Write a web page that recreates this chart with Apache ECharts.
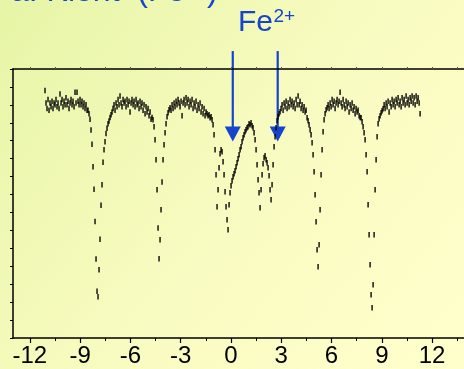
<!DOCTYPE html>
<html>
<head>
<meta charset="utf-8">
<script src="https://cdn.jsdelivr.net/npm/echarts@6/dist/echarts.min.js"></script>
<style>
  html, body { margin: 0; padding: 0; }
  #chart { width: 464px; height: 369px; }
</style>
</head>
<body>
<div id="chart"></div>
<script>
// Mössbauer spectrum: one count per channel, channel velocity = vStart + i * vStep (mm/s)
const vStart = -11.09;
const vStep = 0.05967;
const counts = [
  138, 131, 128, 133, 127, 131, 129, 132, 128, 131, 130, 133, 129, 131, 128, 136, 131, 133, 129, 132,
  130, 134, 130, 132, 128, 131, 133, 130, 132, 129, 137, 131, 137, 132, 130, 133, 130, 132, 129, 131,
  128, 130, 127,
  127, 125, 122, 116, 108, 95.5, 83, 65, 44, 26, 23, 38, 55, 74, 85.5, 98, 105, 109.5, 114, 117,
  119.5, 121, 123, 124.5, 126,
  128, 130, 127, 131, 129, 133, 130, 135, 131, 129, 133, 131, 132, 129, 133, 130, 132, 126, 131, 133,
  130, 132, 129, 133, 130, 131, 128, 132, 129, 131, 127, 130, 125, 129, 126, 128, 124, 126, 122, 123,
  121.7, 117.8, 110.5, 99.4, 82.6, 61.4, 44.2, 54.8, 71.5, 87, 99.4, 107.8, 114.5, 119.5, 123.4, 125.6,
  127.3, 128.4,
  127, 130, 128, 131, 129, 132, 130, 133, 131, 129, 132, 124, 131, 133, 130, 134, 131, 133, 129, 132,
  130, 133, 128, 131, 129, 132, 127, 130, 128, 131, 126, 129, 125, 128, 124, 126,
  125, 124, 124.5, 122.8, 123.4,
  121.7, 118.9, 113.3, 105, 91, 73.2, 82.6, 94.9, 102.7, 105, 103.8, 98.3, 91, 81.5, 73.2, 65.9,
  60.3, 74.3, 81, 84.9, 87.7, 89.9, 91.6, 93.3, 95.5, 97.7, 100, 102.2, 105, 106.6, 109.4, 111.7,
  113.3, 115, 116.1, 117.3, 117.8, 119.5, 118.9, 120, 118.4, 117.3, 114.5, 110.5, 105, 96.6, 88.2, 81,
  72.6, 82.6, 91, 97.2, 100.5, 101.6, 99.4, 97.7, 94.9, 90.5, 82.6, 77.1, 85.4, 96.6, 106.6, 112.2,
  117.3, 121.2, 123.4, 125, 126.2,
  128, 130, 127, 131, 129, 132, 128, 131, 129, 133, 130, 132, 129, 131, 128, 133, 130, 135, 130, 132,
  128, 130, 127, 129, 126, 127,
  122.8, 121.2, 118.9, 116.1, 113.3, 108.9, 102.2, 92.7, 79.9, 64.8, 49.2, 39.7, 52, 71.5, 91, 105,
  115, 121.7, 125, 127.3, 128.4,
  130, 128, 131, 129, 133, 130, 132, 128, 131, 133, 130, 132, 137, 131, 129, 133, 130, 128, 132, 129,
  131, 126, 130, 128, 131, 127, 129, 125, 128, 126, 127, 124, 123,
  122.8, 120.6, 117.8, 114.5, 110.5, 102.2, 92.7, 74.3, 57.6, 40.9, 24.1, 16.8, 29.7, 57.6, 82.6, 99.4,
  112.2, 119.5, 122.3, 124, 125.6, 126.7, 127.8,
  130, 128, 131, 129, 132, 126, 131, 129, 133, 130, 132, 129, 133, 131, 134, 130, 132, 129, 134, 131,
  133, 130, 135, 131, 133, 130, 134, 132, 135, 131, 134, 130, 135, 132, 134, 131, 125
];

const xLabels = [-12, -9, -6, -3, 0, 3, 6, 9, 12];
const xMinor = [-10.5, -7.5, -4.5, -1.5, 1.5, 4.5, 7.5, 10.5, 13.5];
const xTop = [-12, -10.5, -9, -7.5, -6, -4.5, -3, -1.5, 0, 1.5, 3, 4.5, 6, 7.5, 9, 10.5, 12, 13.5];
const arrowVel = [0.11, 2.79];
const arrowTop = 160;
const arrowTip = 109.6;

const blue = '#1545cc';
const font = 'Arial, "Liberation Sans", sans-serif';

const chart = echarts.init(document.getElementById('chart'), null, { renderer: 'canvas' });

const points = counts.map((c, i) => [vStart + i * vStep, c]);

const baseX = {
  type: 'value',
  min: -13,
  max: 14.5,
  splitLine: { show: false },
  axisLabel: { show: false },
  axisLine: { show: false, onZero: false },
  axisTick: { show: false }
};

chart.setOption({
  animation: false,
  backgroundColor: new echarts.graphic.LinearGradient(0, 0, 1, 1, [
    { offset: 0, color: '#e6f5a6' },
    { offset: 0.5, color: '#f8fbc0' },
    { offset: 1, color: '#ffffcc' }
  ]),
  grid: { left: 13, right: -10, top: 69, bottom: 31, containLabel: false, outerBoundsMode: 'none' },
  xAxis: [
    {
      ...baseX,
      position: 'bottom',
      axisLine: { show: true, onZero: false, lineStyle: { color: '#000', width: 1.5 } },
      axisTick: { show: true, customValues: xLabels, length: 5, lineStyle: { color: '#000', width: 1.2 } },
      axisLabel: {
        show: true,
        customValues: xLabels,
        color: '#000',
        fontSize: 24,
        fontFamily: font,
        margin: 6
      }
    },
    {
      ...baseX,
      position: 'bottom',
      axisTick: { show: true, customValues: xMinor, length: 3, lineStyle: { color: '#000', width: 1 } }
    },
    {
      ...baseX,
      position: 'top',
      axisLine: { show: true, onZero: false, lineStyle: { color: '#000', width: 1.5 } },
      axisTick: { show: true, customValues: xTop, length: 2, lineStyle: { color: '#555', width: 1 } }
    }
  ],
  yAxis: {
    type: 'value',
    min: 0,
    max: 150,
    interval: 10,
    position: 'left',
    splitLine: { show: false },
    axisLabel: { show: false },
    axisLine: { show: true, onZero: false, lineStyle: { color: '#000', width: 1.5 } },
    axisTick: { show: true, length: 3, lineStyle: { color: '#000', width: 1 } }
  },
  series: [
    {
      type: 'scatter',
      data: points,
      symbol: 'rect',
      symbolSize: [1.7, 5.5],
      itemStyle: { color: '#000' },
      silent: true
    }
  ]
});

// arrows and the Fe2+ label
const elements = [];
arrowVel.forEach(v => {
  const top = chart.convertToPixel({ xAxisIndex: 0, yAxisIndex: 0 }, [v, arrowTop]);
  const tip = chart.convertToPixel({ xAxisIndex: 0, yAxisIndex: 0 }, [v, arrowTip]);
  const headH = 15, headW = 8;
  elements.push({
    type: 'line',
    shape: { x1: top[0], y1: top[1], x2: tip[0], y2: tip[1] - headH + 1 },
    style: { stroke: blue, lineWidth: 2.2 }
  });
  elements.push({
    type: 'polygon',
    shape: { points: [[tip[0] - headW, tip[1] - headH], [tip[0] + headW, tip[1] - headH], [tip[0], tip[1]]] },
    style: { fill: blue }
  });
});
elements.push(
  {
    type: 'text', left: 238, top: 8,
    style: { text: 'Fe', fill: blue, font: '30px ' + font }
  },
  {
    type: 'text', left: 273.5, top: 7,
    style: { text: '2+', fill: blue, font: '19px ' + font }
  },
  {
    type: 'text', left: 11, top: -24,
    style: { text: 'a. Kient  (Fe³⁺)', fill: blue, font: '32px ' + font }
  }
);
chart.setOption({ graphic: { elements } });
</script>
</body>
</html>
